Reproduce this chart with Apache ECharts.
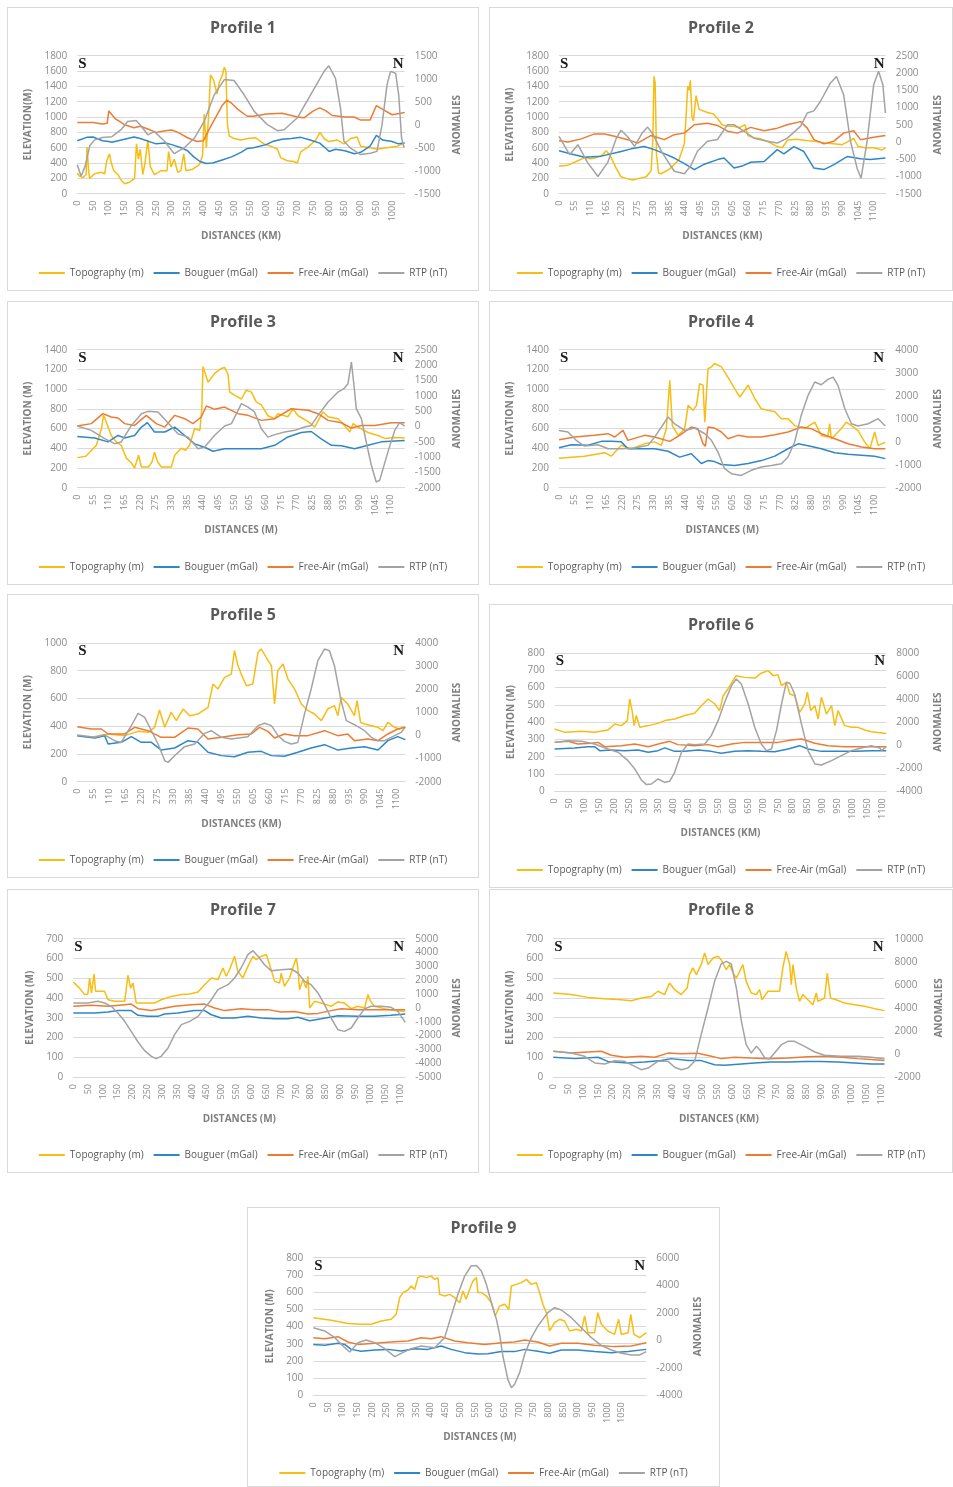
<!DOCTYPE html>
<html>
<head>
<meta charset="utf-8">
<title>Profiles 1-9</title>
<script src="https://cdn.jsdelivr.net/npm/echarts@6.0.0/dist/echarts.min.js"></script>
<style>
  html, body { margin: 0; padding: 0; background: #fff; }
  body { position: relative; width: 953px; height: 1487px; overflow: hidden; }
  .panel { position: absolute; box-sizing: border-box; border: 1px solid #d9d9d9; background: #fff; }
</style>
</head>
<body>
<script>
// series names (legend)
const names = ['Topography (m)', 'Bouguer (mGal)', 'Free-Air (mGal)', 'RTP (nT)']
const colors = ['#f7bd12', '#2f87c8', '#ee7b33', '#a3a3a3']

// ---- Profile 1 : [distance, value] ----
const topo1 = [[0,270],[7,230],[18,210],[28,250],[31,610],[36,300],[39,200],[55,260],[76,280],[87,260],[93,420],[102,520],[108,400],[116,300],[129,250],[139,180],[150,130],[166,150],[182,200],[188,650],[194,450],[200,580],[208,250],[215,400],[224,700],[232,350],[245,250],[266,300],[285,300],[290,550],[298,350],[308,450],[319,280],[329,300],[338,520],[345,300],[366,320],[388,380],[398,500],[403,1040],[410,600],[417,1000],[423,1550],[433,1480],[444,1300],[451,1450],[461,1550],[467,1650],[472,1600],[477,900],[483,750],[498,720],[520,700],[541,720],[567,730],[583,680],[593,650],[615,620],[636,580],[646,470],[667,430],[688,420],[699,400],[710,550],[731,600],[757,700],[771,800],[784,720],[799,680],[826,700],[847,650],[868,720],[889,740],[900,620],[931,600],[952,580],[984,600],[1016,620],[1035,650]]
const boug1 = [[0,690],[30,735],[50,740],[80,690],[100,680],[110,670],[150,710],[180,740],[200,720],[250,650],[280,660],[300,640],[330,600],[350,560],[370,480],[390,420],[410,395],[430,400],[460,440],[490,480],[520,540],[540,590],[560,600],[600,640],[620,680],[650,710],[680,720],[710,735],[740,700],[770,660],[790,590],[800,550],[820,580],[850,560],[880,520],[900,540],[930,620],[950,760],[970,700],[1000,680],[1020,650],[1040,660]]
const free1 = [[0,930],[50,930],[80,910],[95,920],[100,1080],[120,980],[150,900],[180,860],[200,880],[220,850],[250,800],[280,820],[300,830],[320,800],[350,730],[380,680],[400,690],[420,850],[440,1000],[460,1150],[475,1220],[490,1180],[510,1100],[540,1010],[560,1010],[600,1040],[650,1050],[680,1020],[700,1000],[720,990],[750,1080],[770,1120],[790,1080],[810,1020],[850,1000],[880,1000],[900,960],[930,960],[950,1150],[970,1100],[1000,1030],[1040,1060]]
const rtp1 = [[0,-870],[12,-1120],[25,-900],[40,-450],[55,-330],[80,-280],[110,-260],[140,-100],[160,70],[187,90],[205,-50],[224,-220],[245,-150],[277,-360],[308,-630],[340,-500],[372,-290],[403,70],[435,650],[467,980],[498,960],[530,650],[562,290],[604,0],[636,-130],[657,-110],[699,150],[741,650],[784,1160],[799,1280],[820,1010],[836,360],[847,-360],[868,-510],[900,-650],[931,-620],[952,-580],[968,0],[984,870],[995,1160],[1011,1120],[1021,650],[1030,-290],[1038,-500]]

// ---- Profile 2 ----
const topo2 = [[0,357],[30,370],[60,420],[90,470],[110,455],[130,470],[150,500],[165,560],[180,490],[200,330],[217,220],[235,200],[258,180],[280,200],[305,220],[322,300],[328,700],[332,1530],[336,1450],[341,500],[348,270],[357,260],[386,320],[403,380],[420,450],[438,650],[444,1000],[450,1400],[455,1350],[459,1480],[465,1000],[470,950],[479,1280],[490,1100],[519,1060],[540,1040],[554,980],[570,900],[590,880],[610,880],[630,860],[650,900],[660,760],[680,730],[700,720],[730,680],[760,620],[780,600],[800,700],[830,710],[850,700],[870,690],[900,680],[930,660],[960,650],[990,640],[1010,680],[1030,720],[1045,620],[1070,600],[1100,600],[1130,570],[1142,600]]
const boug2 = [[0,560],[40,520],[89,475],[148,490],[217,550],[252,585],[298,615],[333,575],[370,520],[403,465],[440,390],[473,315],[508,385],[554,445],[577,465],[612,335],[640,360],[670,410],[717,420],[763,575],[786,520],[821,615],[856,550],[891,335],[926,315],[961,380],[1007,485],[1054,455],[1088,445],[1141,465]]
const free2 = [[0,690],[31,675],[78,715],[124,780],[159,780],[194,750],[240,705],[275,660],[322,760],[368,705],[403,770],[438,790],[473,900],[519,920],[554,890],[589,815],[624,790],[670,865],[717,820],[763,855],[798,900],[844,940],[868,855],[891,705],[926,650],[961,685],[995,790],[1030,820],[1054,705],[1100,735],[1141,760]]
const rtp2 = [[0,160],[37,-370],[66,-80],[100,-600],[136,-1000],[170,-600],[200,100],[217,340],[240,150],[264,-130],[290,250],[310,430],[330,200],[360,-300],[403,-850],[438,-920],[460,-700],[484,-270],[519,20],[554,70],[589,500],[612,500],[647,310],[682,110],[728,20],[763,-30],[798,110],[844,450],[868,840],[891,900],[914,1180],[949,1710],[970,1900],[995,1370],[1019,20],[1042,-760],[1056,-1050],[1077,20],[1100,1660],[1117,2050],[1132,1660],[1141,840]]

// ---- Profile 3 ----
const topo3 = [[0,305],[30,320],[67,430],[85,600],[92,735],[100,680],[119,530],[135,470],[154,430],[172,300],[190,250],[201,200],[215,330],[225,210],[250,210],[262,260],[271,360],[282,260],[295,210],[330,210],[342,330],[365,400],[380,380],[394,430],[412,600],[430,580],[437,800],[441,1230],[447,1220],[459,1070],[482,1160],[505,1210],[517,1220],[529,1150],[535,970],[552,940],[576,900],[593,990],[611,970],[628,870],[646,840],[669,730],[693,700],[704,750],[739,720],[757,800],[775,730],[810,670],[833,615],[862,770],[880,720],[915,700],[938,630],[956,565],[968,650],[985,615],[1020,560],[1055,530],[1079,500],[1114,510],[1149,505]]
const boug3 = [[0,520],[61,505],[108,465],[143,530],[166,505],[201,530],[225,615],[246,660],[271,565],[307,565],[342,615],[377,530],[412,445],[447,410],[476,370],[517,395],[576,395],[646,395],[693,430],[739,515],[786,560],[821,570],[856,495],[892,430],[927,425],[973,395],[1020,430],[1067,465],[1149,480]]
const free3 = [[0,626],[49,650],[90,751],[119,717],[143,707],[166,650],[201,632],[242,734],[277,650],[307,615],[342,734],[377,700],[406,650],[435,717],[453,829],[482,795],[517,818],[564,751],[599,734],[646,683],[693,700],[751,801],[810,785],[845,751],[880,683],[927,659],[962,605],[997,632],[1044,632],[1102,659],[1149,659]]
const rtp3 = [[0,10],[49,-130],[96,-400],[131,-565],[154,-510],[190,30],[225,410],[248,490],[283,470],[318,120],[353,-240],[388,-350],[424,-730],[447,-675],[482,-290],[517,10],[541,90],[576,740],[599,630],[622,470],[646,-80],[669,-350],[693,-270],[728,-185],[763,-130],[798,-20],[821,30],[845,360],[880,795],[915,1120],[938,1250],[950,1390],[962,2100],[971,1340],[979,580],[997,250],[1014,-510],[1032,-1270],[1049,-1815],[1061,-1760],[1090,-840],[1114,-130],[1131,120],[1149,10]]

// ---- Profile 4 ----
const topo4 = [[0,300],[89,318],[159,355],[182,320],[217,430],[252,395],[298,445],[333,465],[357,430],[374,600],[386,1090],[395,630],[415,530],[438,600],[450,835],[467,785],[479,835],[490,1055],[502,1040],[508,665],[514,665],[519,1205],[531,1225],[542,1260],[566,1225],[589,1120],[612,1005],[630,920],[659,1040],[682,905],[705,800],[728,785],[752,770],[775,700],[798,700],[821,630],[856,600],[891,665],[914,530],[937,515],[943,650],[949,495],[984,600],[1001,665],[1019,630],[1042,580],[1065,465],[1083,395],[1100,565],[1112,430],[1137,460]]
const boug4 = [[0,405],[43,435],[101,430],[148,470],[182,470],[217,465],[240,395],[287,395],[333,395],[380,370],[420,310],[461,345],[496,245],[519,275],[542,265],[566,235],[612,225],[659,245],[705,275],[752,320],[798,395],[833,445],[868,425],[914,395],[961,355],[1007,340],[1054,330],[1100,320],[1137,295]]
const free4 = [[0,487],[55,514],[124,531],[171,548],[194,514],[223,582],[240,480],[298,531],[333,514],[386,470],[420,531],[461,615],[484,599],[502,446],[510,420],[519,615],[542,605],[566,565],[589,497],[624,531],[659,514],[705,514],[752,538],[798,565],[844,615],[879,599],[914,548],[961,497],[1007,446],[1054,413],[1100,396],[1137,396]]
const rtp4 = [[0,490],[31,420],[60,60],[89,-190],[136,-130],[171,-305],[217,-305],[264,-275],[310,-160],[333,200],[357,640],[380,1070],[403,780],[438,490],[473,595],[508,345],[531,60],[554,-450],[577,-1175],[601,-1390],[635,-1465],[670,-1245],[705,-1100],[740,-1030],[775,-955],[798,-665],[821,-15],[844,1145],[868,2015],[891,2595],[914,2475],[937,2710],[955,2810],[972,2450],[996,1435],[1019,780],[1042,680],[1077,780],[1112,1000],[1137,680]]

// ---- Profile 5 ----
const topo5 = [[0,332],[48,320],[106,344],[163,332],[209,363],[243,356],[266,392],[283,517],[301,392],[323,500],[341,440],[364,524],[387,476],[415,488],[450,536],[467,704],[484,668],[507,752],[530,776],[541,945],[553,837],[564,776],[582,692],[604,704],[622,933],[633,957],[650,897],[668,837],[679,560],[690,801],[708,849],[725,740],[748,668],[771,560],[794,512],[817,488],[840,440],[862,524],[885,548],[897,476],[908,608],[931,560],[954,476],[963,584],[975,428],[989,416],[1012,404],[1035,392],[1052,368],[1069,428],[1092,392],[1109,380],[1129,397]]
const boug5 = [[0,332],[60,315],[94,332],[106,272],[151,284],[186,325],[220,284],[255,284],[289,228],[335,243],[381,296],[415,284],[450,212],[496,188],[541,180],[587,212],[633,219],[668,188],[713,183],[759,212],[805,243],[851,267],[897,228],[943,243],[989,252],[1035,228],[1069,296],[1103,325],[1129,303]]
const free5 = [[0,397],[48,380],[83,380],[106,344],[163,344],[197,392],[243,368],[289,320],[335,320],[381,387],[415,380],[450,308],[496,320],[553,339],[599,344],[627,392],[656,363],[679,315],[713,344],[748,332],[794,332],[851,368],[897,332],[931,344],[954,296],[1000,308],[1035,296],[1069,344],[1103,380],[1129,392]]
const rtp5 = [[0,20],[60,-80],[94,30],[128,-225],[151,-300],[186,420],[209,955],[232,785],[255,205],[278,-370],[301,-1090],[312,-1165],[335,-875],[369,-485],[404,-370],[438,90],[461,205],[496,-80],[530,-155],[587,-55],[622,425],[645,525],[668,425],[691,-10],[713,-255],[736,-370],[759,-300],[782,925],[805,2010],[828,3235],[851,3740],[868,3665],[885,3020],[908,1505],[926,640],[954,465],[989,205],[1012,-80],[1035,-225],[1058,-225],[1092,-10],[1115,135],[1129,350]]

// ---- Profile 6 ----
const topo6 = [[0,360],[34,341],[90,347],[134,341],[179,355],[202,389],[224,380],[244,409],[252,534],[260,467],[267,380],[274,438],[286,370],[314,380],[347,393],[370,409],[403,418],[437,438],[470,451],[493,495],[515,534],[538,505],[554,467],[566,553],[582,592],[599,640],[610,669],[638,659],[672,655],[694,683],[717,698],[734,669],[750,675],[762,611],[778,630],[790,563],[806,553],[823,457],[840,505],[849,573],[860,467],[874,495],[885,418],[896,544],[913,447],[930,495],[941,380],[952,467],[974,380],[997,370],[1019,370],[1042,355],[1064,345],[1086,340],[1114,335]]
const boug6 = [[0,245],[67,251],[112,258],[134,258],[151,235],[190,239],[235,235],[280,239],[314,226],[347,235],[370,251],[403,231],[437,231],[482,239],[526,231],[560,220],[605,231],[650,235],[694,231],[739,229],[784,245],[823,264],[851,245],[896,231],[952,231],[1008,231],[1064,235],[1114,235]]
const free6 = [[0,283],[45,289],[78,274],[123,278],[146,283],[168,258],[224,264],[269,274],[314,258],[358,278],[386,289],[414,270],[470,264],[515,270],[549,258],[594,274],[638,283],[694,283],[750,283],[795,297],[829,303],[874,278],[918,264],[974,258],[1030,258],[1114,258]]
const rtp6 = [[0,250],[45,395],[90,340],[134,105],[179,-325],[213,-615],[246,-1340],[269,-2060],[291,-3015],[308,-3420],[325,-3365],[347,-2930],[370,-3220],[386,-3130],[403,-2350],[426,-615],[448,105],[470,50],[504,105],[526,830],[549,2130],[571,3720],[594,5170],[610,5745],[627,5310],[650,3575],[672,1555],[694,105],[711,-470],[728,-325],[745,1265],[762,3575],[778,5455],[790,5370],[806,4445],[829,1840],[851,-470],[874,-1630],[896,-1715],[930,-1340],[963,-905],[997,-470],[1030,-240],[1064,-40],[1092,-240],[1098,-470],[1114,-125]]

// ---- Profile 7 ----
const topo7 = [[0,481],[21,450],[38,417],[49,420],[55,501],[61,425],[70,521],[75,434],[94,434],[105,434],[117,391],[139,383],[173,383],[184,515],[193,450],[201,476],[212,374],[240,374],[274,374],[296,391],[330,408],[364,417],[392,420],[420,430],[442,467],[465,501],[487,493],[504,552],[515,510],[526,543],[543,611],[554,535],[571,501],[588,560],[605,611],[616,594],[633,611],[650,619],[661,569],[678,484],[695,476],[700,526],[711,459],[728,501],[739,552],[751,602],[756,552],[762,442],[773,493],[784,450],[790,510],[796,349],[812,383],[846,369],[868,358],[891,380],[913,374],[936,346],[958,358],[981,349],[992,417],[1001,383],[1014,358],[1048,346],[1082,336],[1118,332]]
const boug7 = [[0,324],[72,324],[117,329],[150,336],[195,336],[218,312],[251,307],[285,307],[307,319],[352,324],[408,336],[442,336],[465,315],[498,299],[543,299],[588,307],[633,299],[678,295],[723,295],[756,302],[796,285],[835,295],[891,310],[958,307],[1014,307],[1070,312],[1118,319]]
const free7 = [[0,358],[61,363],[117,358],[173,366],[195,369],[218,346],[263,337],[296,346],[341,358],[397,366],[442,369],[476,349],[509,336],[565,346],[610,341],[655,341],[700,329],[745,332],[790,319],[824,322],[868,336],[902,346],[958,341],[1014,341],[1118,341]]
const rtp7 = [[0,350],[49,350],[83,470],[105,350],[128,110],[150,-375],[173,-975],[195,-1700],[218,-2470],[240,-3095],[263,-3505],[279,-3675],[296,-3505],[319,-2905],[341,-1940],[364,-1215],[392,-975],[420,-615],[442,-10],[465,590],[487,1315],[521,1675],[543,2160],[565,2880],[588,3845],[605,4135],[622,3725],[644,3120],[666,2690],[700,2760],[734,2810],[756,2520],[779,1915],[801,1675],[824,1075],[846,230],[868,-735],[891,-1580],[913,-1700],[936,-1455],[958,-735],[981,-60],[1003,110],[1037,110],[1070,35],[1093,-250],[1118,-1050]]

// ---- Profile 8 ----
const topo8 = [[0,425],[60,417],[116,403],[172,396],[228,391],[262,386],[295,400],[329,408],[351,434],[373,417],[390,476],[407,442],[429,417],[449,450],[457,518],[468,552],[480,518],[496,569],[508,628],[519,569],[536,602],[552,611],[563,594],[580,543],[591,569],[603,526],[614,501],[625,535],[636,569],[647,484],[664,425],[681,417],[692,442],[700,391],[720,434],[742,434],[759,434],[770,552],[781,636],[793,569],[798,467],[804,569],[815,450],[826,383],[837,417],[854,391],[871,366],[882,425],[888,383],[910,400],[919,526],[930,400],[949,391],[977,374],[1011,366],[1044,358],[1078,346],[1111,336]]
const boug8 = [[0,100],[72,93],[150,100],[183,79],[250,71],[306,76],[362,83],[396,93],[452,83],[496,83],[541,62],[575,59],[631,66],[675,71],[731,76],[787,76],[843,79],[899,79],[955,76],[1011,71],[1067,66],[1111,66]]
const free8 = [[0,130],[60,121],[116,127],[161,130],[195,110],[239,100],[295,105],[340,100],[385,121],[429,118],[485,120],[530,105],[563,93],[608,100],[664,96],[720,93],[787,96],[854,103],[910,105],[966,100],[1022,93],[1067,88],[1111,84]]
const rtp8 = [[0,225],[60,80],[105,-205],[139,-785],[172,-870],[206,-585],[239,-640],[273,-1075],[295,-1365],[318,-1220],[351,-640],[385,-640],[407,-1160],[429,-1365],[452,-1220],[474,-640],[496,1675],[519,3985],[541,6300],[563,7805],[580,8035],[597,7805],[614,5720],[631,2830],[647,805],[664,80],[681,660],[692,370],[709,-350],[726,-410],[742,80],[765,805],[787,1095],[809,1095],[843,660],[877,170],[910,-120],[966,-205],[1022,-205],[1067,-295],[1111,-410]]

// ---- Profile 9 ----
const topo9 = [[0,451],[61,436],[118,418],[163,413],[197,413],[231,432],[265,442],[282,471],[294,568],[305,597],[322,612],[333,635],[345,616],[356,684],[367,693],[384,684],[401,693],[413,674],[424,684],[430,587],[447,577],[464,587],[481,568],[498,538],[509,606],[520,558],[532,616],[543,664],[555,684],[560,597],[572,597],[589,577],[606,538],[619,461],[634,519],[651,529],[665,500],[674,635],[691,645],[708,655],[725,674],[742,645],[759,655],[770,597],[781,529],[793,480],[804,374],[821,422],[838,442],[855,432],[872,374],[895,384],[912,374],[923,461],[934,364],[957,364],[968,480],[980,413],[1002,374],[1025,354],[1039,442],[1048,354],[1071,364],[1080,471],[1091,354],[1110,335],[1133,364]]
const boug9 = [[0,296],[39,291],[84,302],[107,296],[129,267],[163,256],[209,263],[254,267],[299,258],[345,271],[390,267],[435,287],[469,267],[515,248],[560,240],[594,242],[640,254],[685,254],[719,267],[764,256],[804,244],[844,263],[900,263],[957,254],[1014,248],[1071,254],[1133,267]]
const free9 = [[0,335],[39,329],[84,341],[118,310],[152,296],[209,302],[265,310],[322,316],[367,335],[401,329],[435,341],[481,316],[526,306],[583,296],[640,306],[685,310],[719,322],[764,310],[804,287],[844,302],[900,302],[957,291],[1025,283],[1082,287],[1133,306]]
const rtp9 = [[0,915],[39,675],[73,190],[107,-540],[124,-855],[152,-175],[180,20],[209,-175],[243,-610],[277,-1190],[299,-950],[333,-610],[367,-415],[413,-540],[447,190],[469,1760],[492,3335],[515,4665],[537,5395],[555,5440],[572,5030],[589,4060],[606,2730],[623,1520],[634,430],[645,-1145],[662,-2840],[674,-3445],[685,-3200],[702,-2355],[719,-1020],[742,190],[764,1035],[798,2005],[821,2365],[844,2200],[878,1640],[912,915],[946,190],[980,-370],[1014,-705],[1048,-950],[1082,-1070],[1110,-1070],[1133,-830]]

// panel layout: box = [x, y, w, h], plot = [x0, y0, x1, y1] in page pixels
const panels = [
  { title: 'Profile 1', box: [7, 7, 472, 284], plot: [77.3, 55.7, 404.7, 193.7], x: [1040, 50, 1000], left: [0, 1800, 200], right: [-1500, 1500, 500], yName: 'ELEVATION(M)', xName: 'DISTANCES (KM)', gaps: [42, 45], data: [topo1, boug1, free1, rtp1] },
  { title: 'Profile 2', box: [489, 7, 464, 284], plot: [559, 55.7, 885.7, 193.7], x: [1142, 55, 1100], left: [0, 1800, 200], right: [-1500, 2500, 500], yName: 'ELEVATION (M)', xName: 'DISTANCES (KM)', gaps: [41, 47], data: [topo2, boug2, free2, rtp2] },
  { title: 'Profile 3', box: [7, 301, 472, 284], plot: [77.3, 349.7, 404.7, 487.7], x: [1149, 55, 1100], left: [0, 1400, 200], right: [-2000, 2500, 500], yName: 'ELEVATION (M)', xName: 'DISTANCES (M)', gaps: [42, 45], data: [topo3, boug3, free3, rtp3] },
  { title: 'Profile 4', box: [489, 301, 464, 284], plot: [559, 349.7, 885.3, 487.7], x: [1137, 55, 1100], left: [0, 1400, 200], right: [-2000, 4000, 1000], yName: 'ELEVATION (M)', xName: 'DISTANCES (M)', gaps: [41, 48], data: [topo4, boug4, free4, rtp4] },
  { title: 'Profile 5', box: [7, 594, 472, 284], plot: [77.3, 643, 405.3, 781.7], x: [1129, 55, 1100], left: [0, 1000, 200], right: [-2000, 4000, 1000], yName: 'ELEVATION (M)', xName: 'DISTANCES (KM)', gaps: [42, 46], data: [topo5, boug5, free5, rtp5] },
  { title: 'Profile 6', box: [489, 604, 464, 284], plot: [554.7, 653, 886.3, 791.3], x: [1114, 50, 1100], left: [0, 800, 100], right: [-4000, 8000, 2000], yName: 'ELEVATION (M)', xName: 'DISTANCES (KM)', gaps: [38, 47], data: [topo6, boug6, free6, rtp6] },
  { title: 'Profile 7', box: [7, 889, 472, 284], plot: [73.3, 938.7, 405.3, 1077], x: [1118, 50, 1100], left: [0, 700, 100], right: [-5000, 5000, 1000], yName: 'ELEVATION (M)', xName: 'DISTANCES (M)', gaps: [38, 46], data: [topo7, boug7, free7, rtp7] },
  { title: 'Profile 8', box: [489, 889, 464, 284], plot: [553.3, 938.7, 884.7, 1077], x: [1111, 50, 1100], left: [0, 700, 100], right: [-2000, 10000, 2000], yName: 'ELEVATION (M)', xName: 'DISTANCES (KM)', gaps: [35, 48], data: [topo8, boug8, free8, rtp8] },
  { title: 'Profile 9', box: [247, 1207, 473, 280], plot: [313.3, 1257.7, 646.3, 1395.3], x: [1133, 50, 1050], left: [0, 800, 100], right: [-4000, 6000, 2000], yName: 'ELEVATION (M)', xName: 'DISTANCES (M)', gaps: [36, 47], data: [topo9, boug9, free9, rtp9] }
]

const font = '"Open Sans", sans-serif'
const labelGray = '#8c8c8c'
const nameStyle = { fontSize: 10, fontWeight: 'bold', color: '#7f7f7f', fontFamily: font }
const plain = v => String(v)   // no thousands separators, like the original

function drawPanel(p) {
  const div = document.createElement('div')
  div.className = 'panel'
  div.style.left = p.box[0] + 'px'
  div.style.top = p.box[1] + 'px'
  div.style.width = p.box[2] + 'px'
  div.style.height = p.box[3] + 'px'
  document.body.appendChild(div)

  const chart = echarts.init(div, null, { renderer: 'canvas' })
  const ox = p.box[0] + 1
  const oy = p.box[1] + 1
  const g = {
    left: p.plot[0] - ox,
    top: p.plot[1] - oy,
    width: p.plot[2] - p.plot[0],
    height: p.plot[3] - p.plot[1]
  }
  const [xMax, xStep, xLast] = p.x

  const series = names.map((name, i) => ({
    name: name,
    type: 'line',
    yAxisIndex: i === 3 ? 1 : 0,
    data: p.data[i],
    symbol: 'none',
    lineStyle: { width: 1.5, color: colors[i] },
    itemStyle: { color: colors[i] }
  }))

  chart.setOption({
    animation: false,
    textStyle: { fontFamily: font },
    title: {
      text: p.title,
      left: 'center',
      top: 12,
      padding: 0,
      textStyle: { fontSize: 16, fontWeight: 'bold', color: '#595959', fontFamily: font }
    },
    legend: {
      data: names.map(n => ({ name: n, icon: 'rect' })),
      top: 260,
      left: 'center',
      padding: 0,
      itemWidth: 26,
      itemHeight: 2,
      itemGap: 10,
      textStyle: { fontSize: 10, color: '#595959', fontFamily: font }
    },
    grid: g,
    graphic: [
      { type: 'text', left: g.left + 1, top: g.top + 1, style: { text: 'S', font: 'bold 15px "Liberation Serif"', fill: '#1a1a1a' } },
      { type: 'text', left: g.left + g.width - 12, top: g.top + 1, style: { text: 'N', font: 'bold 15px "Liberation Serif"', fill: '#1a1a1a' } }
    ],
    xAxis: {
      type: 'value',
      min: 0,
      max: xMax,
      interval: xStep,
      name: p.xName,
      nameLocation: 'middle',
      nameGap: 37,
      nameTextStyle: nameStyle,
      axisLine: { show: true, onZero: false, lineStyle: { color: '#d9d9d9' } },
      axisTick: { show: false },
      splitLine: { show: false },
      axisLabel: {
        rotate: 90,
        fontSize: 9,
        color: labelGray,
        margin: 7,
        formatter: v => (v % xStep === 0 && v <= xLast) ? String(v) : ''
      }
    },
    yAxis: [
      {
        type: 'value',
        position: 'left',
        min: p.left[0],
        max: p.left[1],
        interval: p.left[2],
        name: p.yName,
        nameLocation: 'middle',
        nameRotate: 90,
        nameGap: p.gaps[0],
        nameTextStyle: nameStyle,
        axisLine: { show: false },
        axisTick: { show: false },
        axisLabel: { fontSize: 10, color: labelGray, margin: 10, formatter: plain },
        splitLine: { lineStyle: { color: '#d9d9d9', width: 1 } }
      },
      {
        type: 'value',
        position: 'right',
        min: p.right[0],
        max: p.right[1],
        interval: p.right[2],
        name: 'ANOMALIES',
        nameLocation: 'middle',
        nameRotate: 90,
        nameGap: p.gaps[1],
        nameTextStyle: nameStyle,
        axisLine: { show: false },
        axisTick: { show: false },
        axisLabel: { fontSize: 10, color: labelGray, margin: 10, formatter: plain },
        splitLine: { show: false }
      }
    ],
    series: series
  })
}

panels.forEach(drawPanel)
</script>
</body>
</html>
